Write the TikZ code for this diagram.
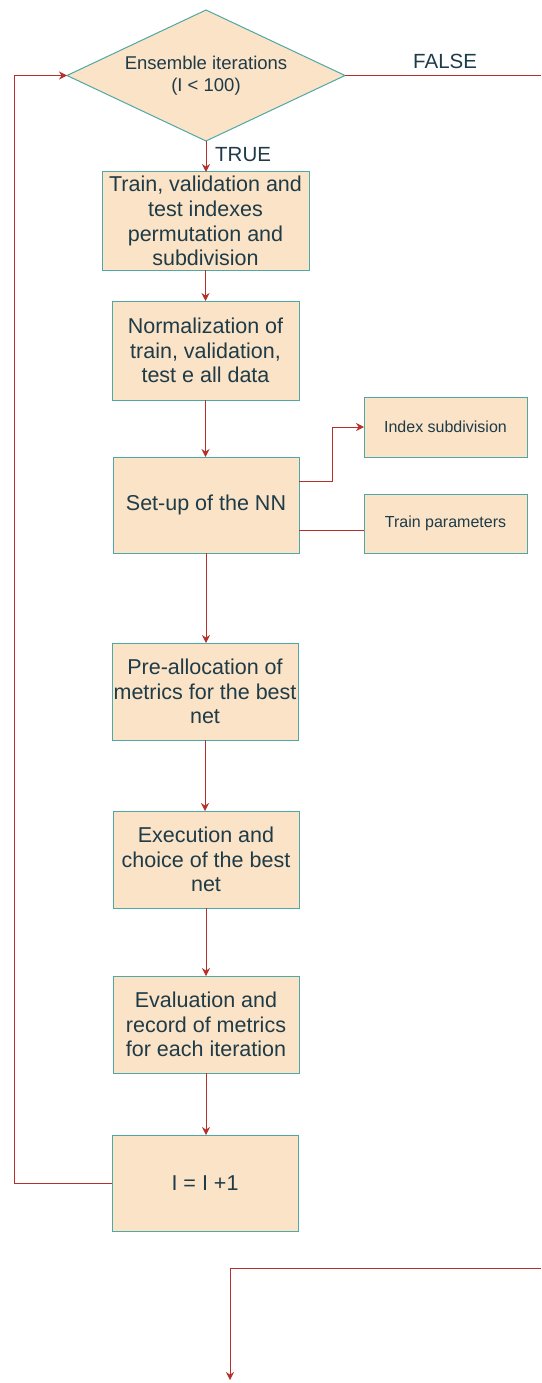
\documentclass[tikz,border=0pt]{standalone}
\usepackage{fontspec}
\setmainfont{Liberation Sans}
\usetikzlibrary{shapes.geometric,arrows.meta}
\definecolor{boxfill}{HTML}{FAE3C6}
\definecolor{boxline}{HTML}{4EA8A5}
\definecolor{arrowc}{HTML}{B5302A}
\definecolor{txtc}{HTML}{1F3B48}
\begin{document}
\begin{tikzpicture}[x=1pt,y=-1pt,
  procbox/.style={rectangle,draw=boxline,fill=boxfill,line width=1pt,text=txtc,
    align=center,inner sep=1pt,outer sep=0pt,font=\fontsize{21.5}{24.7}\selectfont},
  smallbox/.style={procbox,font=\fontsize{16}{19}\selectfont,
    minimum width=163pt,minimum height=60pt},
  decbox/.style={diamond,aspect=2.12,draw=boxline,fill=boxfill,line width=1pt,text=txtc,
    align=center,inner sep=0pt,outer sep=0pt,minimum width=278pt,minimum height=131pt,
    font=\fontsize{18.5}{22}\selectfont},
  conn/.style={draw=arrowc,line width=1pt},
  arr/.style={conn,-{Stealth[length=8pt,width=8pt]}},
  lbl/.style={text=txtc,font=\fontsize{20.5}{23}\selectfont,inner sep=0pt}]
\useasboundingbox (0,0) rectangle (541,1383);

\node[decbox] (dec) at (206,75.5) {Ensemble iterations\\(I < 100)};
\node[procbox,minimum width=207pt,minimum height=98pt] (b1) at (205.5,221)
  {Train, validation and\\test indexes\\permutation and\\subdivision};
\node[procbox,minimum width=187pt,minimum height=99pt] (b2) at (205.5,350.5)
  {Normalization of\\train, validation,\\test e all data};
\node[procbox,minimum width=186pt,minimum height=96pt] (b3) at (206,505)
  {Set-up of the NN};
\node[smallbox] (ix) at (445.5,427) {Index subdivision};
\node[smallbox,minimum height=59pt] (tp) at (445.5,523.5) {Train parameters};
\node[procbox,minimum width=186pt,minimum height=97pt] (b4) at (205,691.5)
  {Pre-allocation of\\metrics for the best\\net};
\node[procbox,minimum width=186pt,minimum height=97pt] (b5) at (206,859.5)
  {Execution and\\choice of the best\\net};
\node[procbox,minimum width=186pt,minimum height=97pt] (b6) at (206,1024.5)
  {Evaluation and\\record of metrics\\for each iteration};
\node[procbox,minimum width=186pt,minimum height=96pt] (b7) at (205,1183)
  {I = I +1};

\node[lbl,anchor=west] (tl) at (215,155) {TRUE};
\node[lbl,anchor=west] (fl) at (413,61) {FALSE};

\coordinate (fend) at (541,75.5);
\coordinate (bstart) at (541,1268);
\coordinate (bend) at (230,1380);

\draw[arr] (dec.south) -- (dec.south |- b1.north);
\draw[arr] (b1.south) -- (b1.south |- b2.north);
\draw[arr] (b2.south) -- (b2.south |- b3.north);
\draw[arr] ([yshift=24pt]b3.east) -- ++(33,0) |- (ix.west);
\draw[conn] ([yshift=-25pt]b3.east) -- ([yshift=-25pt]b3.east -| tp.west);
\draw[arr] (b3.south) -- (b3.south |- b4.north);
\draw[arr] (b4.south) -- (b4.south |- b5.north);
\draw[arr] (b5.south) -- (b5.south |- b6.north);
\draw[arr] (b6.south) -- (b6.south |- b7.north);
\draw[arr] (b7.west) -- ++(-98,0) |- (dec.west);
\draw[conn] (dec.east) -- (fend);
\draw[arr] (bstart) -| (bend);
\end{tikzpicture}
\end{document}
